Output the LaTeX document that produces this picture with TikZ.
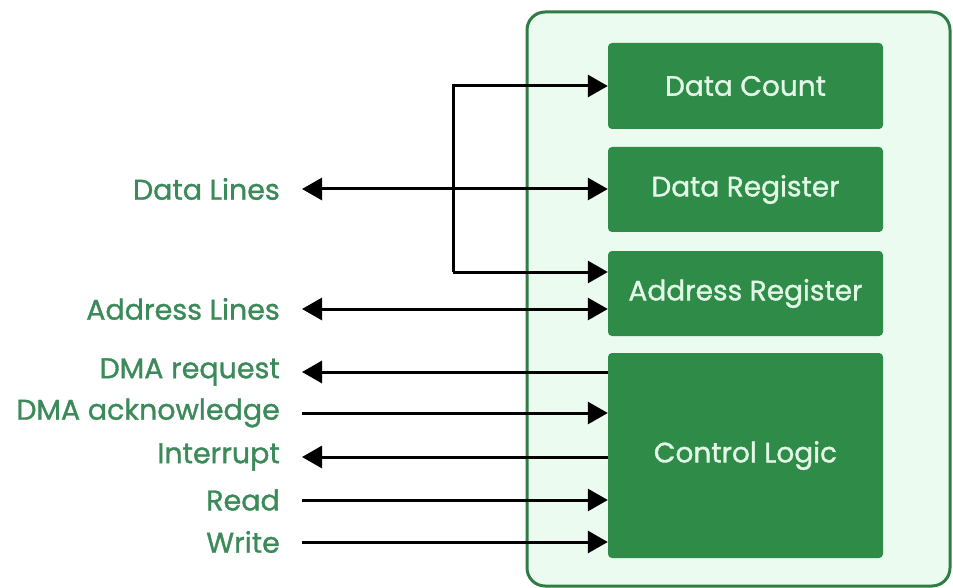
\documentclass[tikz,border=0pt]{standalone}
\usepackage{fontspec}
\setmainfont{Poppins}
\newfontfamily\semifont{Poppins}[FakeBold=1.2]
\usetikzlibrary{arrows.meta}

\definecolor{panelfill}{HTML}{EBFBEF}
\definecolor{panelline}{HTML}{2F7D45}
\definecolor{boxfill}{HTML}{2E8B48}
\definecolor{boxtext}{HTML}{E3F7E6}
\definecolor{labeltext}{HTML}{3C8A5A}

\tikzset{
  unit/.style={draw=none, fill=boxfill, rounded corners=4pt, text=boxtext,
    font=\semifont\fontsize{28}{32}\selectfont, inner sep=0pt},
  sig/.style={text=labeltext, font=\semifont\fontsize{28.5}{33}\selectfont, anchor=east, inner sep=0pt},
  wire/.style={line width=3pt, draw=black},
  tip/.style={-{Triangle[length=20pt,width=22pt]}},
  tips/.style={{Triangle[length=20pt,width=22pt]}-{Triangle[length=20pt,width=22pt]}},
  tipl/.style={{Triangle[length=20pt,width=22pt]}-},
}

\begin{document}
\begin{tikzpicture}[x=1pt,y=-1pt]
  \useasboundingbox (0,0) rectangle (953,588);

  % DMA controller outline
  \draw[fill=panelfill, draw=panelline, line width=3pt, rounded corners=18pt]
    (527,12) rectangle (950,586);

  % internal registers and control unit
  \node[unit, minimum width=275pt, minimum height=86pt] (dc) at (745.5,86) {Data Count};
  \node[unit, minimum width=275pt, minimum height=85pt] (dr) at (745.5,189.5) {Data Register};
  \node[unit, minimum width=275pt, minimum height=85pt] (ar) at (745.5,293.5) {Address Register};
  \node[unit, minimum width=275pt, minimum height=205pt] (cl) at (745.5,455.5) {Control Logic};

  % external signal names
  \node[sig] (dl)  at (280,189) {Data Lines};
  \node[sig] (al)  at (280,309) {Address Lines};
  \node[sig] (rq)  at (280,372) {DMA request};
  \node[sig] (ack) at (280,413) {DMA acknowledge};
  \node[sig] (irq) at (280,457) {Interrupt};
  \node[sig] (rd)  at (280,500) {Read};
  \node[sig] (wr)  at (280,542) {Write};

  % branch point of the data bus
  \coordinate (bt) at (453,86);
  \coordinate (bm) at (453,189);
  \coordinate (bb) at (453,272);

  % data bus
  \draw[wire, tips] ([xshift=22pt]dl.east) -- (dl.east -| dr.west);
  \draw[wire, tip] (bb) -- (bt) -- (bt -| dc.west);
  \draw[wire, tip] (bb) -- (bb -| ar.west);

  % address bus
  \draw[wire, tips] ([xshift=22pt]al.east) -- (al.east -| ar.west);

  % control signals
  \draw[wire, tipl] ([xshift=22pt]rq.east) -- (rq.east -| cl.west);
  \draw[wire, tip] ([xshift=22pt]ack.east) -- (ack.east -| cl.west);
  \draw[wire, tipl] ([xshift=22pt]irq.east) -- (irq.east -| cl.west);
  \draw[wire, tip] ([xshift=22pt]rd.east) -- (rd.east -| cl.west);
  \draw[wire, tip] ([xshift=22pt]wr.east) -- (wr.east -| cl.west);
\end{tikzpicture}
\end{document}
